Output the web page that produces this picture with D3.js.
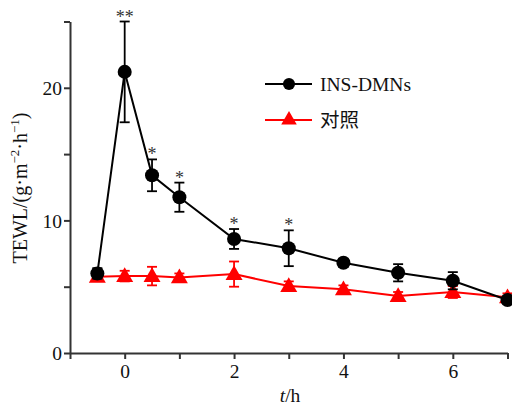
<!DOCTYPE html>
<html><head><meta charset="utf-8">
<script src="https://cdn.jsdelivr.net/npm/d3@7"></script>
<style>body{margin:0;background:#fff}</style>
</head><body>
<svg id="c" width="512" height="405"></svg>
<script>
const times = [-0.5, 0, 0.5, 1, 2, 3, 4, 5, 6, 7];
const insVals = [6.0, 21.2, 13.4, 11.75, 8.6, 7.9, 6.8, 6.05, 5.45, 4.0];
const insErr = [0.4, 3.8, 1.2, 1.1, 0.75, 1.35, 0.3, 0.65, 0.65, 0.25];
const ctrlVals = [5.75, 5.8, 5.8, 5.7, 5.95, 5.05, 4.8, 4.3, 4.6, 4.2];
const ctrlErr = [0.3, 0.4, 0.7, 0.3, 0.95, 0.35, 0.3, 0.3, 0.45, 0.3];
const sigMarks = ["", "**", "*", "*", "*", "*", "", "", "", ""];
const xTicks = [-1, 0, 1, 2, 3, 4, 5, 6, 7];
const xLabels = [0, 2, 4, 6];
const yTicks = [0, 5, 10, 15, 20, 25];
const yLabels = [0, 10, 20];

const svg = d3.select("#c");
const x = d3.scaleLinear().domain([-1, 7]).range([70, 507.5]);
const y = d3.scaleLinear().domain([0, 25]).range([353, 21.5]);
const serif = "'Liberation Serif','Times New Roman',serif";
const axCol = "#333";

// axes
const xAxis = d3.axisBottom(x).tickValues(xTicks).tickSize(6).tickSizeOuter(0)
  .tickFormat(d => xLabels.includes(d) ? d : "");
const gx = svg.append("g").attr("transform", `translate(0,${y(0)})`).call(xAxis);
const yAxis = d3.axisLeft(y).tickValues(yTicks).tickSize(6).tickSizeOuter(0)
  .tickFormat(d => yLabels.includes(d) ? d : "");
const gy = svg.append("g").attr("transform", `translate(${x(-1)},0)`).call(yAxis);
[gx, gy].forEach(g => {
  g.select(".domain").attr("stroke", axCol).attr("stroke-width", 2);
  g.selectAll(".tick line").attr("stroke", axCol).attr("stroke-width", 2);
  g.selectAll(".tick text").attr("font-family", serif).attr("font-size", 19.5).attr("fill", "#111");
});
gx.selectAll(".tick text").attr("y", 25).attr("dy", 0);
gy.selectAll(".tick text").attr("x", -8).attr("dy", "0.35em");

// axis titles
svg.append("text").attr("x", 290).attr("y", 402).attr("text-anchor", "middle")
  .attr("font-family", serif).attr("font-size", 19.5).attr("fill", "#111")
  .html('<tspan font-style="italic">t</tspan>/h');
const yt = svg.append("text").attr("transform", "translate(27,188) rotate(-90)")
  .attr("text-anchor", "middle").attr("font-family", serif).attr("font-size", 20).attr("fill", "#111");
yt.append("tspan").text("TEWL/(g·m");
yt.append("tspan").attr("font-size", 13).attr("dy", -8).text("−2");
yt.append("tspan").attr("dy", 8).text("·h");
yt.append("tspan").attr("font-size", 13).attr("dy", -8).text("−1");
yt.append("tspan").attr("dy", 8).text(")");

const line = d3.line().x(d => x(d[0])).y(d => y(d[1]));
function series(vals, errs, color, shape) {
  const g = svg.append("g");
  const pts = times.map((t, i) => [t, vals[i], errs[i]]);
  g.append("path").datum(pts).attr("d", line).attr("fill", "none")
    .attr("stroke", color).attr("stroke-width", 2);
  pts.forEach(p => {
    const cx = x(p[0]), y1 = y(p[1] + p[2]), y2 = y(p[1] - p[2]);
    g.append("line").attr("x1", cx).attr("x2", cx).attr("y1", y1).attr("y2", y2)
      .attr("stroke", color).attr("stroke-width", 1.8);
    [y1, y2].forEach(yy => g.append("line").attr("x1", cx - 5).attr("x2", cx + 5)
      .attr("y1", yy).attr("y2", yy).attr("stroke", color).attr("stroke-width", 1.8));
  });
  g.selectAll("path.m").data(pts).join("path").attr("class", "m")
    .attr("d", d3.symbol().type(shape).size(shape === d3.symbolCircle ? 155 : 125))
    .attr("transform", d => `translate(${x(d[0])},${y(d[1]) + (shape === d3.symbolTriangle ? 1 : 0)})`)
    .attr("fill", color);
}
series(ctrlVals, ctrlErr, "#ff0000", d3.symbolTriangle);
series(insVals, insErr, "#000", d3.symbolCircle);

// significance
times.forEach((t, i) => {
  if (!sigMarks[i]) return;
  svg.append("text").attr("x", x(t)).attr("y", y(insVals[i] + insErr[i]) + 1)
    .attr("text-anchor", "middle").attr("font-family", serif).attr("font-size", 18)
    .attr("fill", "#333").text(sigMarks[i]);
});

// legend
const leg = [
  {label: "INS-DMNs", color: "#000", shape: d3.symbolCircle, size: 115, y: 84, font: serif},
  {label: "对照", color: "#ff0000", shape: d3.symbolTriangle, size: 105, y: 120, font: "'Noto Sans CJK SC',sans-serif"}
];
leg.forEach(l => {
  svg.append("line").attr("x1", 265).attr("x2", 312).attr("y1", l.y).attr("y2", l.y)
    .attr("stroke", l.color).attr("stroke-width", 2);
  svg.append("path").attr("d", d3.symbol().type(l.shape).size(l.size)())
    .attr("transform", `translate(289,${l.y})`).attr("fill", l.color);
  svg.append("text").attr("x", 320).attr("y", l.y).attr("dy", "0.35em")
    .attr("font-family", l.font).attr("font-size", 19.5).attr("fill", "#111").text(l.label);
});
</script>
</body></html>
